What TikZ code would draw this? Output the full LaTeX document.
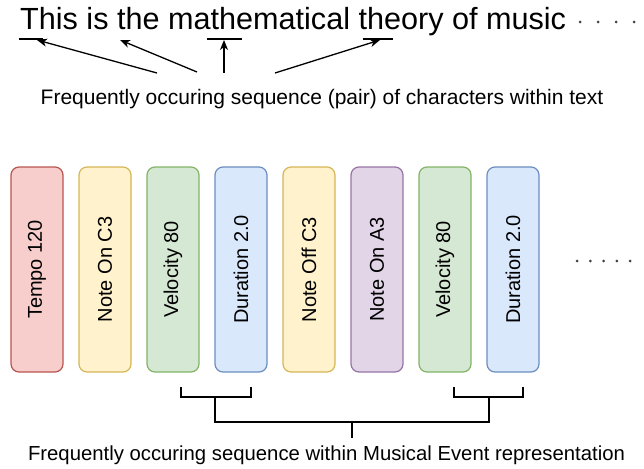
\documentclass[tikz,border=0pt]{standalone}
\usepackage{fontspec}
\setmainfont{Liberation Sans}
\usetikzlibrary{arrows.meta}
\definecolor{redF}{HTML}{F8CECC}\definecolor{redD}{HTML}{B85450}
\definecolor{yelF}{HTML}{FFF2CC}\definecolor{yelD}{HTML}{D6B656}
\definecolor{grnF}{HTML}{D5E8D4}\definecolor{grnD}{HTML}{82B366}
\definecolor{bluF}{HTML}{DAE8FC}\definecolor{bluD}{HTML}{6C8EBF}
\definecolor{purF}{HTML}{E1D5E7}\definecolor{purD}{HTML}{9673A6}
\tikzset{
  event/.style={draw=#1D, fill=#1F, line width=1.2pt, rounded corners=8pt,
    minimum width=52pt, minimum height=205pt, inner sep=0pt},
  evlabel/.style={rotate=90, font=\fontsize{20}{24}\selectfont, inner sep=0pt},
  pointer/.style={line width=1.3pt, -{Stealth[length=10pt,width=8pt,inset=3pt]}},
  uline/.style={line width=1.3pt},
  brace/.style={line width=2.2pt, line cap=rect},
  dot/.style={circle, fill=black!75, inner sep=0pt, minimum size=3pt},
}
\begin{document}
\begin{tikzpicture}[x=1pt,y=-1pt]
\useasboundingbox (0,0) rectangle (644,468);
% top sentence
\node[anchor=base west, inner sep=0pt, font=\fontsize{30.6}{36}\selectfont] (sent) at (20,30) {This is the mathematical theory of music};
\foreach \i in {0,1,2,3} \node[dot] (td\i) at (580+18*\i,22) {};
% underlines
\coordinate (u1a) at (19,39); \coordinate (u1b) at (43,39);
\coordinate (u3a) at (207,39); \coordinate (u3b) at (242,39);
\coordinate (u4a) at (363,39); \coordinate (u4b) at (393,39);
\draw[uline] (u1a) -- (u1b);
\draw[uline] (u3a) -- (u3b);
\draw[uline] (u4a) -- (u4b);
% arrows
\coordinate (a1s) at (157,73); \coordinate (a1t) at (37,40);
\coordinate (a2s) at (197,72); \coordinate (a2t) at (120,40);
\coordinate (a3s) at (224,73); \coordinate (a3t) at (224,40);
\coordinate (a4s) at (275,73); \coordinate (a4t) at (380,40);
\draw[pointer] (a1s) -- (a1t);
\draw[pointer] (a2s) -- (a2t);
\draw[pointer] (a3s) -- (a3t);
\draw[pointer] (a4s) -- (a4t);
\node[anchor=base, inner sep=0pt, font=\fontsize{21}{25}\selectfont] (cap1) at (322,105) {Frequently occuring sequence (pair) of characters within text};
% events
\foreach \n/\c/\t [count=\k from 0] in {e1/red/Tempo 120, e2/yel/Note On C3, e3/grn/Velocity 80, e4/blu/Duration 2.0, e5/yel/Note Off C3, e6/pur/Note On A3, e7/grn/Velocity 80, e8/blu/Duration 2.0}{
  \node[event=\c] (\n) at (37+68*\k,269.5) {};
  \node[evlabel] at (\n.center) {\t};
}
\foreach \i in {0,...,4} \node[dot] (rd\i) at (577+13.3*\i,261) {};
% brackets
\coordinate (b1l) at (181,388); \coordinate (b1r) at (251,388);
\coordinate (b2l) at (454,388); \coordinate (b2r) at (523,388);
\coordinate (s1) at (215,397); \coordinate (s2) at (489,397);
\coordinate (m) at (352,422); \coordinate (mb) at (352,437);
\draw[brace] (b1l) -- (181,397) -- (251,397) -- (b1r);
\draw[brace] (b2l) -- (454,397) -- (523,397) -- (b2r);
\draw[brace] (s1) -- (215,422) -- (489,422) -- (s2);
\draw[brace] (m) -- (mb);
\node[anchor=base, inner sep=0pt, font=\fontsize{20.3}{24}\selectfont] (cap2) at (326.5,460) {Frequently occuring sequence within Musical Event representation};
\end{tikzpicture}
\end{document}
